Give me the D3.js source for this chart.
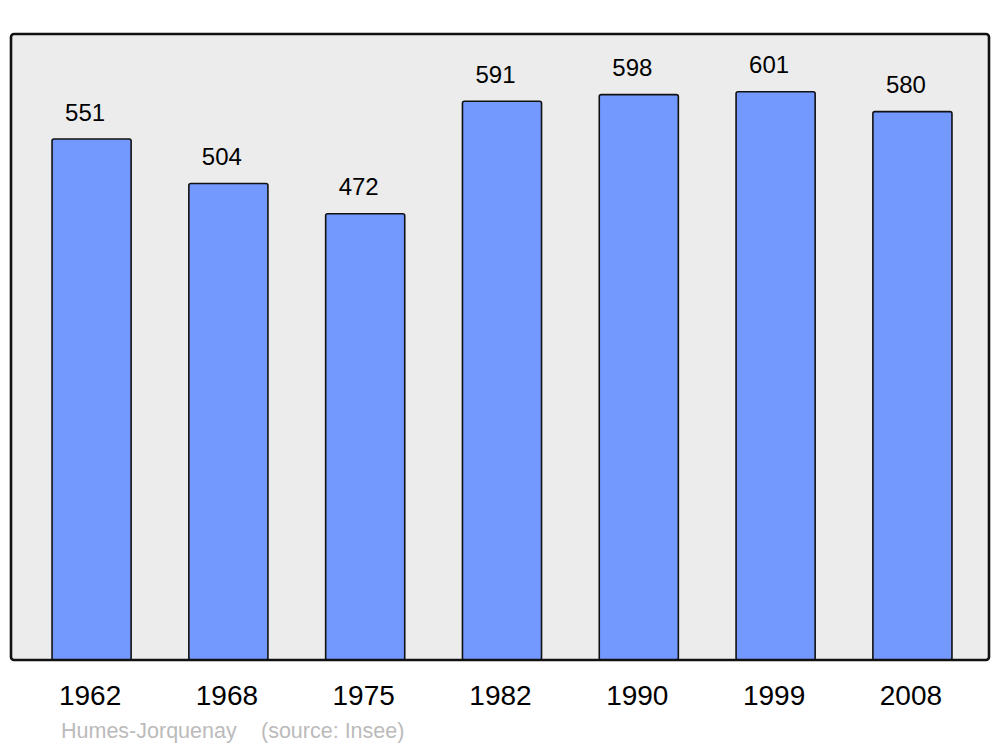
<!DOCTYPE html>
<html>
<head>
<meta charset="utf-8">
<script src="https://cdn.jsdelivr.net/npm/d3@7"></script>
<style>
  body { margin: 0; background: #fff; }
  text { font-family: "Liberation Sans", Arial, sans-serif; }
</style>
</head>
<body>
<div id="chart"></div>
<script>
// population by census year
var years = ["1962", "1968", "1975", "1982", "1990", "1999", "2008"];
var population = [551, 504, 472, 591, 598, 601, 580];
var townName = "Humes-Jorquenay";
var sourceText = "(source: Insee)";

var width = 1000, height = 747;
var panel = {left: 11, top: 34, right: 989, bottom: 660};

var svg = d3.select("#chart")
            .append("svg")
            .attr("width", width)
            .attr("height", height);

//background panel
svg.append("rect")
   .attr("x", panel.left)
   .attr("y", panel.top)
   .attr("width", panel.right - panel.left)
   .attr("height", panel.bottom - panel.top)
   .attr("rx", 3)
   .attr("fill", "#ececec");

var x = d3.scaleBand()
          .domain(years)
          .range([11, 993])
          .paddingInner(0.422)
          .paddingOuter(0.3);

var y = d3.scaleLinear()
          .domain([0, 660])
          .range([panel.bottom, 36]);

var data = years.map(function(d, i) { return {year: d, value: population[i]}; });

// bars
svg.append("g")
   .attr("class", "bars")
   .selectAll("rect")
   .data(data)
   .enter()
   .append("rect")
   .attr("x", function(d) { return x(d.year); })
   .attr("y", function(d) { return y(d.value); })
   .attr("width", x.bandwidth())
   .attr("height", function(d) { return y(0) - y(d.value); })
   .attr("rx", 2)
   .attr("fill", "#7399ff")
   .attr("stroke", "#111")
   .attr("stroke-width", 1.6);

// value labels
svg.append("g")
   .attr("class", "values")
   .selectAll("text")
   .data(data)
   .enter()
   .append("text")
   .attr("x", function(d) { return x(d.year) + x.bandwidth() / 2 - 6.5; })
   .attr("y", function(d) { return y(d.value) - 18.5; })
   .attr("text-anchor", "middle")
   .attr("font-size", 24)
   .attr("fill", "#000")
   .text(function(d) { return d.value; });

// year labels
svg.append("g")
   .attr("class", "years")
   .selectAll("text")
   .data(years)
   .enter()
   .append("text")
   .attr("x", function(d) { return x(d) + x.bandwidth() / 2 - 1.5; })
   .attr("y", 705)
   .attr("text-anchor", "middle")
   .attr("font-size", 28)
   .attr("fill", "#000")
   .text(function(d) { return d; });

// panel frame on top of bars
svg.append("rect")
   .attr("x", panel.left)
   .attr("y", panel.top)
   .attr("width", panel.right - panel.left)
   .attr("height", panel.bottom - panel.top)
   .attr("rx", 3)
   .attr("fill", "none")
   .attr("stroke", "#111")
   .attr("stroke-width", 2.6);

// footer
svg.append("text")
   .attr("x", 61)
   .attr("y", 738)
   .attr("font-size", 21.5)
   .attr("fill", "#bbbbbb")
   .text(townName);

svg.append("text")
   .attr("x", 261)
   .attr("y", 738)
   .attr("font-size", 21.5)
   .attr("fill", "#bbbbbb")
   .text(sourceText);
</script>
</body>
</html>
